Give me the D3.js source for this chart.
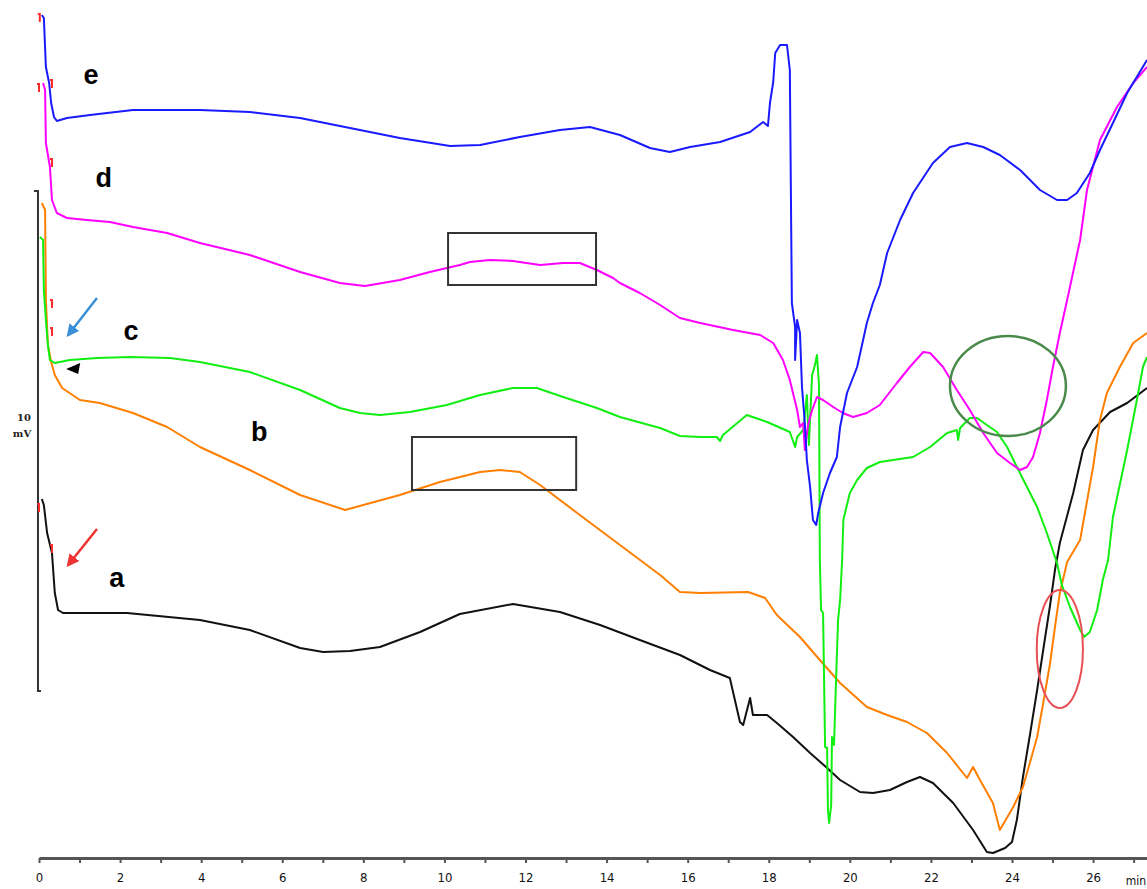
<!DOCTYPE html>
<html>
<head>
<meta charset="utf-8">
<script src="https://cdn.jsdelivr.net/npm/d3@7"></script>
<style>
body { margin: 0; background: #fff; }
.trace { fill: none; stroke-width: 2px; stroke-linejoin: round; }
.axis path, .axis line { stroke: #555; }
.axis path { stroke-width: 3px; }
.axis line { stroke-width: 2px; }
.axis text { font-family: "Liberation Sans Narrow", "DejaVu Sans Condensed", sans-serif; font-size: 13px; fill: #111; }
.trace-label { font-family: "Liberation Sans", Arial, sans-serif; font-weight: bold; font-size: 27px; fill: #000; }
.scale-label { font-family: "DejaVu Serif", serif; font-weight: bold; font-size: 10px; fill: #222; }
</style>
</head>
<body>
<div class="chromatogram"></div>
<script>

// retention time (min), signal (mV)
var traceA = [[0.07,7.18],[0.12,7.06],[0.20,6.50],[0.32,6.10],[0.39,5.30],[0.47,4.96],[0.59,4.90],[2.17,4.90],[3.97,4.76],[5.20,4.56],[6.44,4.20],[7.01,4.12],[7.67,4.14],[8.41,4.22],[9.40,4.52],[10.38,4.88],[11.69,5.08],[12.85,4.92],[13.84,4.66],[14.82,4.36],[15.81,4.06],[16.55,3.76],[17.04,3.60],[17.29,2.72],[17.37,2.66],[17.54,3.20],[17.61,2.86],[17.96,2.86],[18.20,2.70],[18.60,2.42],[19.02,2.10],[19.44,1.80],[19.76,1.56],[20.25,1.32],[20.57,1.30],[20.99,1.36],[21.41,1.52],[21.73,1.62],[22.05,1.50],[22.55,1.10],[23.04,0.56],[23.38,0.12],[23.53,0.10],[23.83,0.20],[24.00,0.32],[24.12,0.76],[24.27,1.62],[24.45,2.50],[24.62,3.36],[24.77,4.16],[24.94,5.06],[25.06,5.76],[25.18,6.30],[25.51,7.30],[25.75,8.16],[26.00,8.56],[26.42,8.92],[26.84,9.10],[27.33,9.40]];

var traceB = [[0.07,13.10],[0.15,12.96],[0.17,11.16],[0.22,10.26],[0.30,9.92],[0.39,9.66],[0.57,9.40],[1.01,9.16],[1.50,9.10],[2.32,8.90],[3.16,8.62],[3.97,8.22],[5.20,7.76],[6.44,7.26],[7.55,6.96],[8.90,7.26],[9.89,7.52],[10.88,7.72],[11.37,7.76],[11.86,7.72],[12.36,7.46],[13.34,6.86],[14.33,6.26],[15.32,5.66],[15.81,5.32],[16.31,5.30],[17.49,5.32],[17.91,5.20],[18.20,4.86],[18.77,4.42],[19.26,3.96],[19.76,3.50],[20.42,3.02],[20.92,2.86],[21.41,2.72],[21.90,2.50],[22.40,2.10],[22.89,1.60],[23.04,1.82],[23.21,1.56],[23.53,1.10],[23.70,0.56],[24.03,1.02],[24.27,1.42],[24.44,1.90],[24.62,2.42],[24.77,3.10],[24.94,3.90],[25.06,4.62],[25.18,5.30],[25.36,5.92],[25.68,6.36],[26.00,7.82],[26.17,8.76],[26.34,9.30],[26.66,9.82],[26.99,10.30],[27.33,10.50]];

var traceC = [[0.02,12.42],[0.10,12.36],[0.12,11.36],[0.17,10.76],[0.22,10.26],[0.27,9.96],[0.39,9.90],[0.76,9.96],[1.43,10.00],[2.24,10.02],[3.23,10.00],[3.97,9.92],[5.20,9.72],[6.44,9.36],[7.42,9.00],[7.92,8.90],[8.41,8.86],[9.15,8.92],[10.06,9.06],[10.88,9.26],[11.69,9.40],[12.28,9.40],[12.93,9.22],[13.76,9.00],[14.33,8.82],[15.32,8.60],[15.81,8.44],[16.31,8.42],[16.72,8.42],[16.80,8.34],[16.87,8.46],[17.46,8.86],[17.96,8.72],[18.52,8.52],[18.65,8.22],[18.70,8.42],[18.85,8.56],[18.94,9.26],[18.99,8.26],[19.07,9.66],[19.14,9.86],[19.19,10.06],[19.24,9.46],[19.26,5.96],[19.29,4.96],[19.34,4.90],[19.39,2.22],[19.44,2.20],[19.46,0.96],[19.49,0.70],[19.54,1.06],[19.56,2.42],[19.61,2.26],[19.66,3.56],[19.71,4.76],[19.76,5.16],[19.81,5.96],[19.84,6.76],[20.00,7.30],[20.18,7.56],[20.42,7.80],[20.74,7.92],[21.56,8.02],[21.98,8.22],[22.40,8.50],[22.64,8.56],[22.67,8.36],[22.72,8.60],[22.96,8.80],[23.14,8.80],[23.38,8.66],[23.63,8.52],[23.88,8.22],[24.12,7.82],[24.37,7.42],[24.62,7.02],[24.86,6.50],[25.11,5.90],[25.23,5.46],[25.43,5.02],[25.68,4.56],[25.78,4.42],[25.92,4.52],[26.10,4.96],[26.24,5.56],[26.37,5.96],[26.49,6.82],[26.84,8.16],[27.08,9.16],[27.23,9.82],[27.33,10.02]];

var traceD = [[0.10,15.50],[0.15,15.36],[0.17,14.30],[0.27,13.82],[0.32,13.16],[0.44,12.90],[0.69,12.80],[1.18,12.76],[1.75,12.72],[2.32,12.62],[3.16,12.50],[3.97,12.30],[5.20,12.06],[6.44,11.72],[7.42,11.50],[8.04,11.44],[8.90,11.56],[9.64,11.72],[10.38,11.86],[10.63,11.92],[11.12,11.96],[11.69,11.94],[12.36,11.86],[12.93,11.90],[13.34,11.90],[13.76,11.76],[14.16,11.60],[14.33,11.50],[14.82,11.30],[15.32,11.06],[15.81,10.80],[16.31,10.70],[17.12,10.56],[17.79,10.46],[18.11,10.30],[18.35,9.96],[18.52,9.56],[18.70,8.96],[18.77,8.62],[18.85,8.70],[18.89,8.16],[18.97,8.66],[19.07,8.96],[19.19,9.22],[19.34,9.16],[19.59,9.02],[19.83,8.90],[20.08,8.82],[20.42,8.90],[20.74,9.06],[21.16,9.50],[21.48,9.82],[21.81,10.12],[21.98,10.10],[22.30,9.82],[22.64,9.36],[22.96,8.96],[23.29,8.50],[23.63,8.10],[23.95,7.90],[24.20,7.76],[24.37,7.82],[24.52,8.02],[24.69,8.50],[24.86,9.16],[25.01,9.82],[25.18,10.50],[25.36,11.16],[25.68,12.36],[25.85,13.36],[26.17,14.36],[26.59,15.02],[26.99,15.50],[27.33,15.82]];

var traceE = [[0.07,16.86],[0.12,16.80],[0.17,15.82],[0.25,15.50],[0.30,15.10],[0.37,14.82],[0.44,14.74],[0.69,14.80],[1.26,14.86],[1.68,14.90],[2.32,14.96],[3.97,14.96],[5.20,14.92],[6.44,14.80],[7.67,14.60],[8.90,14.40],[10.14,14.24],[10.88,14.26],[11.86,14.42],[12.85,14.56],[13.59,14.62],[14.33,14.46],[15.07,14.20],[15.56,14.12],[16.06,14.22],[16.80,14.32],[17.54,14.52],[17.86,14.72],[17.98,14.64],[18.03,15.10],[18.11,15.52],[18.16,16.10],[18.28,16.26],[18.45,16.26],[18.52,15.76],[18.57,11.10],[18.65,10.62],[18.65,9.96],[18.70,10.76],[18.77,10.50],[18.82,9.42],[18.89,8.70],[18.94,7.96],[19.02,7.42],[19.09,6.76],[19.17,6.66],[19.22,6.90],[19.34,7.30],[19.51,7.70],[19.68,8.02],[19.76,8.62],[19.93,9.30],[20.18,9.82],[20.42,10.70],[20.57,11.10],[20.74,11.46],[20.92,12.10],[21.24,12.76],[21.56,13.30],[22.05,13.90],[22.47,14.22],[22.89,14.30],[23.29,14.22],[23.70,14.06],[24.20,13.76],[24.69,13.36],[25.11,13.16],[25.36,13.16],[25.60,13.30],[25.92,13.70],[26.17,14.16],[26.49,14.70],[26.84,15.30],[27.33,15.96]];

// small red integration marks near injection
var markTimes = [0.02, 0.00, 0.32, 0.32, 0.32, 0.32, 0.00, 0.32];
var markSignals = [16.80, 15.40, 15.48, 13.90, 11.08, 10.52, 7.00, 6.18];

var traceNames = ["a", "b", "c", "d", "e"];
var traceColors = ["#111111", "#ff7f00", "#11ee11", "#ff00ff", "#1a1aff"];

function drawChromatogram() {

    // constant margins, width, and height
    var margin = {top: 0, right: 0, bottom: 31, left: 39},
    width = 1147 - margin.left - margin.right,
    height = 889 - margin.top - margin.bottom;

    // scales: minutes across, mV up
    var x = d3.scaleLinear().domain([0, 27.33]).range([0, width]);
    var y = d3.scaleLinear().domain([0, 17.16]).range([height, 0]);

    var valueline = d3.line()
        .x(function(d) { return x(d[0]); })
        .y(function(d) { return y(d[1]); });

    var svg = d3.select(".chromatogram").append("svg")
        .attr("width", width + margin.left + margin.right)
        .attr("height", height + margin.top + margin.bottom)
    .append("g")
        .attr("transform", `translate(${margin.left}, ${margin.top})`);

    var defs = svg.append("defs");
    [["arrow-blue", "#3a8fd6"], ["arrow-red", "#ee3333"]].forEach(function(m) {
        defs.append("marker")
            .attr("id", m[0])
            .attr("viewBox", "0 0 10 10")
            .attr("refX", 8)
            .attr("refY", 5)
            .attr("markerWidth", 5)
            .attr("markerHeight", 5)
            .attr("orient", "auto")
            .attr("markerUnits", "strokeWidth")
          .append("path")
            .attr("d", "M0,0 L10,5 L0,10 Z")
            .style("fill", m[1]);
    });

    // x axis
    svg.append("g")
        .attr("class", "axis")
        .attr("transform", `translate(0, ${height})`)
        .call(d3.axisBottom(x)
            .tickValues(d3.range(0, 28, 1))
            .tickSize(5)
            .tickSizeOuter(0)
            .tickPadding(10)
            .tickFormat(function(d) { return d % 2 === 0 ? d : ""; }));
    svg.append("text")
        .attr("x", width - 1)
        .attr("y", height + 27)
        .style("text-anchor", "end")
        .style("font-family", "Liberation Sans Narrow, DejaVu Sans Condensed, sans-serif")
        .style("font-size", "12px")
        .style("fill", "#111")
        .text("min");

    // 10 mV scale bar
    var sx = x(-0.025);
    svg.append("path")
        .attr("d", `M${sx - 4},${y(13.34)} H${sx} V${y(3.34)} H${sx + 3}`)
        .style("fill", "none")
        .style("stroke", "#333")
        .style("stroke-width", "2px");
    svg.append("text")
        .attr("class", "scale-label")
        .attr("x", sx - 14)
        .attr("y", y(8.74))
        .style("text-anchor", "middle")
        .text("10");
    svg.append("text")
        .attr("class", "scale-label")
        .attr("x", sx - 16)
        .attr("y", y(8.42))
        .style("text-anchor", "middle")
        .text("mV");

    // the five runs
    var traces = [traceA, traceB, traceC, traceD, traceE];
    traces.forEach(function(data, i) {
        svg.append("path")
            .data([data])
            .attr("class", "trace")
            .style("stroke", traceColors[i])
            .attr("d", valueline);
    });

    // red marks
    markTimes.forEach(function(t, i) {
        svg.append("path")
            .attr("d", `M${x(t) - 2},${y(markSignals[i]) - 4} H${x(t)} V${y(markSignals[i]) + 4}`)
            .style("fill", "none")
            .style("stroke", "#ff2a2a")
            .style("stroke-width", "2px");
    });

    // trace letters
    var labelPos = [[1.92, 5.60], [5.43, 8.52], [2.27, 10.54], [1.60, 13.60], [1.28, 15.66]];
    traceNames.forEach(function(name, i) {
        svg.append("text")
            .attr("class", "trace-label")
            .attr("x", x(labelPos[i][0]))
            .attr("y", y(labelPos[i][1]))
            .attr("dy", "0.35em")
            .style("text-anchor", "middle")
            .text(name);
    });

    // arrows
    svg.append("line")
        .attr("x1", x(1.43)).attr("y1", y(11.20))
        .attr("x2", x(0.72)).attr("y2", y(10.46))
        .style("stroke", "#3a8fd6")
        .style("stroke-width", "2.5px")
        .attr("marker-end", "url(#arrow-blue)");
    svg.append("line")
        .attr("x1", x(1.43)).attr("y1", y(6.58))
        .attr("x2", x(0.72)).attr("y2", y(5.86))
        .style("stroke", "#ee3333")
        .style("stroke-width", "2.5px")
        .attr("marker-end", "url(#arrow-red)");

    // black arrowhead under c
    var tx = x(0.67), ty = y(9.78);
    svg.append("path")
        .attr("d", `M${tx},${ty} L${tx + 14},${ty - 6} L${tx + 12},${ty + 5} Z`)
        .style("fill", "#000");

    // boxes
    [[10.09, 13.74, 12.50, 11.46], [9.20, 13.25, 8.42, 7.36]].forEach(function(b) {
        svg.append("rect")
            .attr("x", x(b[0]))
            .attr("y", y(b[2]))
            .attr("width", x(b[1]) - x(b[0]))
            .attr("height", y(b[3]) - y(b[2]))
            .style("fill", "none")
            .style("stroke", "#333")
            .style("stroke-width", "2px");
    });

    // ellipses
    svg.append("ellipse")
        .attr("cx", x(23.90))
        .attr("cy", y(9.44))
        .attr("rx", x(1.43) - x(0))
        .attr("ry", y(0) - y(1.00))
        .style("fill", "none")
        .style("stroke", "#4a8a4a")
        .style("stroke-width", "2.5px");
    svg.append("ellipse")
        .attr("cx", x(25.18))
        .attr("cy", y(4.18))
        .attr("rx", x(0.57) - x(0))
        .attr("ry", y(0) - y(1.18))
        .style("fill", "none")
        .style("stroke", "#e85055")
        .style("stroke-width", "2px");
}

drawChromatogram();
</script>
</body>
</html>
